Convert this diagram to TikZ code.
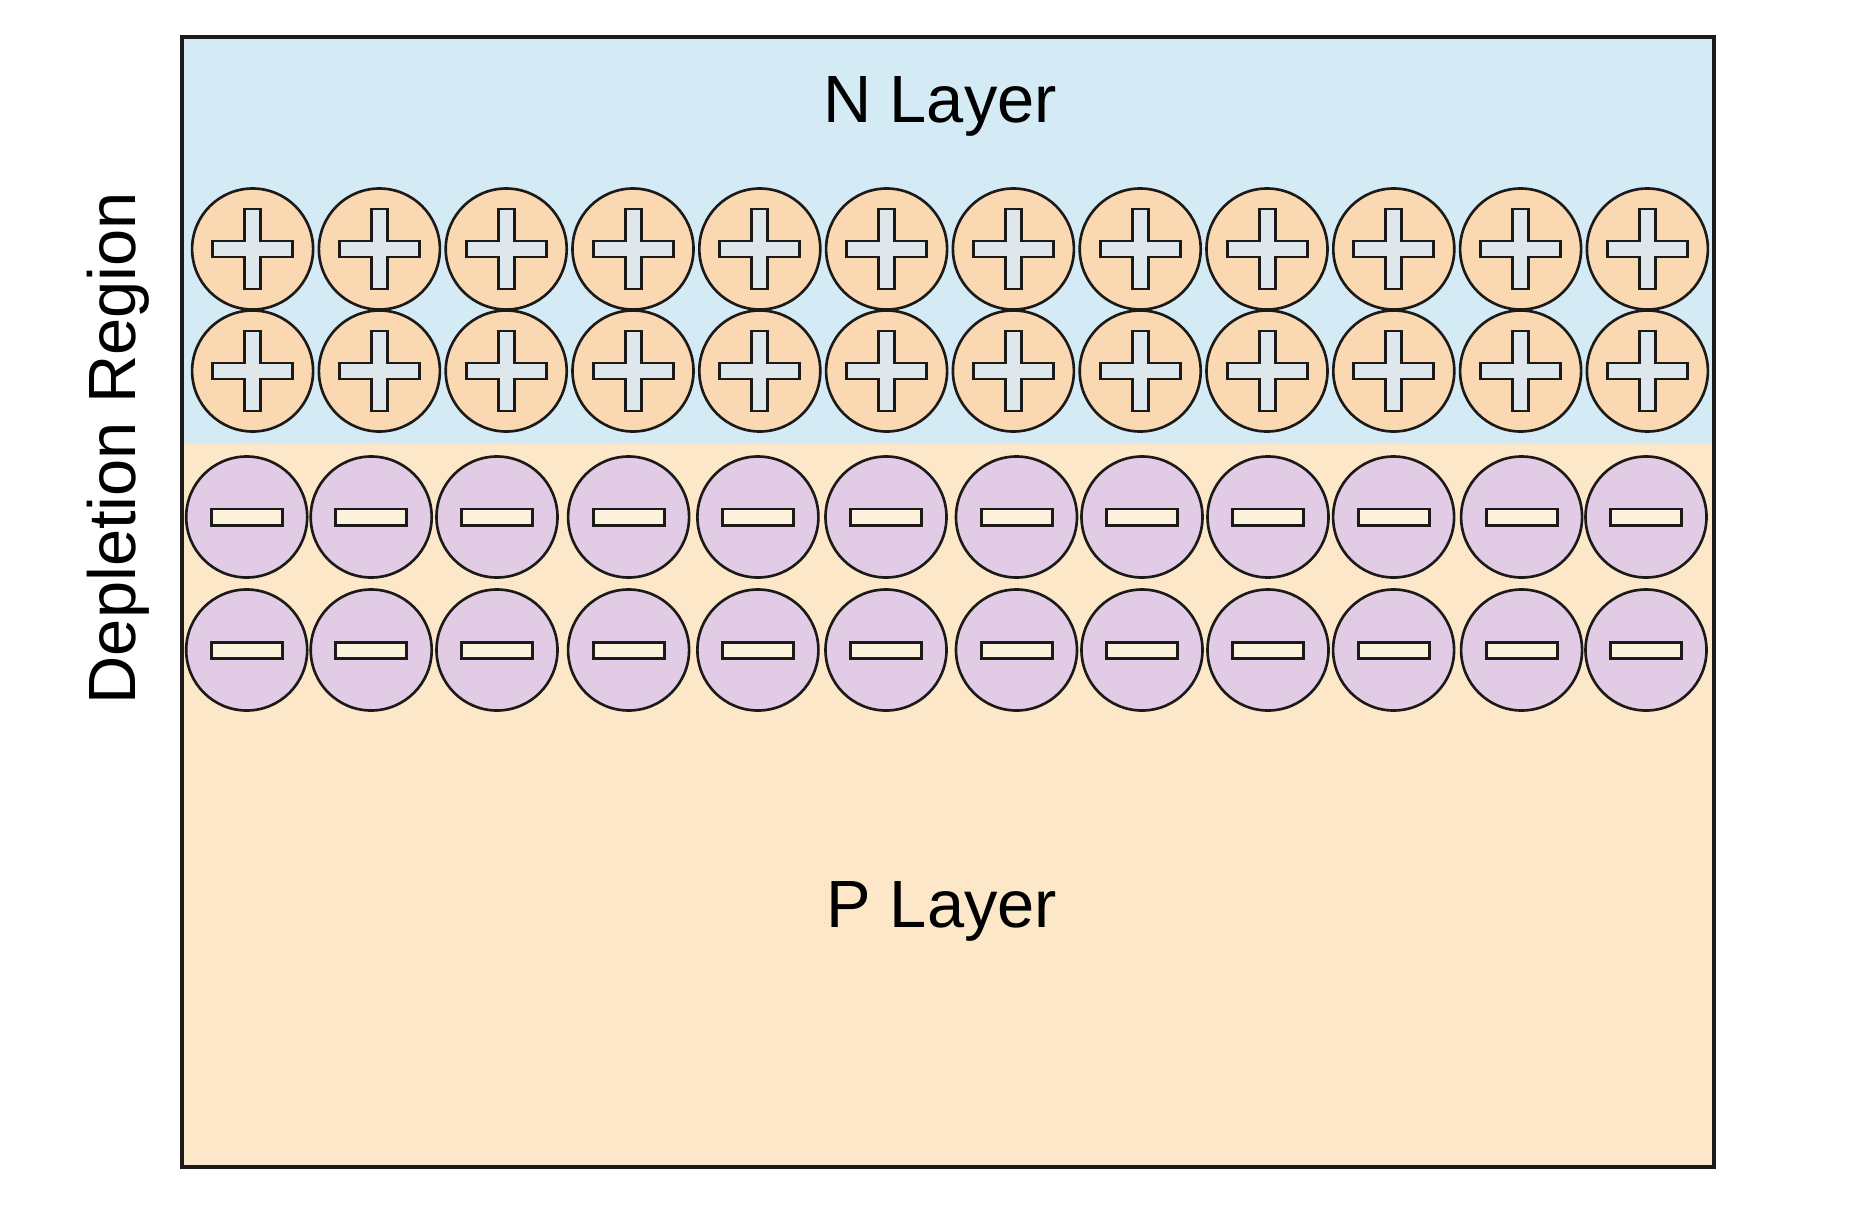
\documentclass[tikz,border=0pt]{standalone}
\usepackage{fontspec}
\setmainfont{Liberation Sans}
\definecolor{nside}{HTML}{D4EAF4}
\definecolor{pside}{HTML}{FCE8C9}
\definecolor{donor}{HTML}{F9D8B2}
\definecolor{acceptor}{HTML}{E1CBE5}
\definecolor{plusbar}{HTML}{DEE7EB}
\definecolor{minusbar}{HTML}{FDF2DB}
\definecolor{inkline}{HTML}{1C1A18}
\tikzset{
  ion/.style={draw=inkline,line width=0.75pt},
  sign/.style={draw=inkline,line width=0.85pt,line join=miter},
  lbl/.style={font=\fontsize{19}{23}\selectfont,inner sep=0pt,anchor=base}
}

\begin{document}
\begin{tikzpicture}[line cap=round,line join=round,x=0.01cm,y=-0.01cm]
  \useasboundingbox (0,0) rectangle (1860,1224);
  \fill[nside] (182,37) rectangle (1714,444);
  \fill[pside] (182,444) rectangle (1714,1167);
  \foreach \y in {249,371} {
    \foreach \i in {0,...,11} {
      \draw[ion,fill=donor] (252.6+126.8*\i,\y) circle[radius=60.5];
      \draw[sign,fill=plusbar,shift={(252.6+126.8*\i,\y)}] (-8,-40) -- (8,-40) -- (8,-8) -- (40,-8) -- (40,8) -- (8,8) -- (8,40) -- (-8,40) -- (-8,8) -- (-40,8) -- (-40,-8) -- (-8,-8) -- cycle;
    }
  }
  \foreach \y in {517,650} {
    \foreach \x in {246.7,371.2,497,628.6,757.9,886,1016.5,1142,1268,1393.6,1521.6,1646} {
      \draw[ion,fill=acceptor] (\x,\y) circle[radius=60.5];
      \draw[sign,fill=minusbar] (\x-35.5,\y-8) rectangle (\x+35.5,\y+8);
    }
  }
  \draw[line width=1pt,draw=inkline,line join=miter] (182,37) rectangle (1714,1167);
  \node[lbl] (nlabel) at (940,122) {N Layer};
  \node[lbl] (plabel) at (942,927) {P Layer};
  \node[lbl,rotate=90] (deplabel) at (135,448) {Depletion Region};
\end{tikzpicture}
\end{document}
